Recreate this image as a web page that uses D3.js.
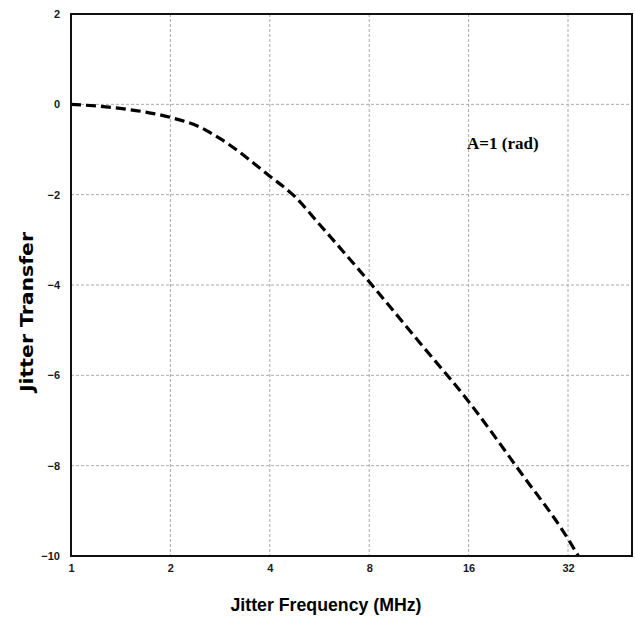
<!DOCTYPE html>
<html>
<head>
<meta charset="utf-8">
<script src="https://cdn.jsdelivr.net/npm/d3@7"></script>
<style>
	body { margin: 0; background: #fff; }
	svg { display: block; font-family: 'Liberation Sans', Arial, sans-serif; }
</style>
</head>
<body>
<svg id="chart" width="635" height="617"></svg>
<script>
// jitter transfer curve
const freqs = [1, 1.41, 2, 2.45, 2.83, 4, 4.76, 5.66, 8, 11.3, 16, 22.9, 32, 34.4]
const transfer = [0, -0.09, -0.29, -0.5, -0.76, -1.59, -2.04, -2.66, -3.93, -5.25, -6.58, -8.13, -9.62, -10]
const xTicks = [1, 2, 4, 8, 16, 32]
const yTicks = [2, 0, -2, -4, -6, -8, -10]

const svg = d3.select('#chart')
const margin = { top: 14, left: 71, bottom: 61, right: 3 }
const width = +svg.attr('width')
const height = +svg.attr('height')

const x = d3.scaleLog().base(2).domain([1, 50]).range([margin.left, width - margin.right])
const y = d3.scaleLinear().domain([-10, 2]).range([height - margin.bottom, margin.top])

// grid
const gGrid = svg.append('g')
gGrid.selectAll('line.v')
	.data(xTicks.slice(1))
	.enter().append('line')
	.attr('x1', x).attr('x2', x)
	.attr('y1', y(2)).attr('y2', y(-10))
gGrid.selectAll('line.h')
	.data(yTicks.slice(1, -1))
	.enter().append('line')
	.attr('x1', x(1)).attr('x2', x(50))
	.attr('y1', y).attr('y2', y)
gGrid.selectAll('line')
	.style('stroke', '#aaa')
	.style('stroke-width', 1)
	.style('stroke-dasharray', '3,2')

// axes, labels only
svg.append('g')
	.attr('transform', `translate(0, ${y(-10)})`)
	.call(d3.axisBottom(x).tickValues(xTicks).tickFormat(d3.format('d')).tickSize(0).tickPadding(8))
svg.append('g')
	.attr('transform', `translate(${x(1)}, 0)`)
	.call(d3.axisLeft(y).tickValues(yTicks).tickSize(0).tickPadding(11))
svg.selectAll('.domain').remove()
svg.selectAll('.tick text')
	.style('font-size', '11px')
	.style('font-weight', 'bold')
	.style('fill', '#1a1a1a')

// curve
const line = d3.line()
	.x((d) => x(d[0]))
	.y((d) => y(d[1]))
	.curve(d3.curveMonotoneX)

svg.append('path')
	.datum(d3.zip(freqs, transfer))
	.attr('d', line)
	.style('fill', 'none')
	.style('stroke', '#000')
	.style('stroke-width', 3.2)
	.style('stroke-dasharray', '10,5')

// frame
svg.append('rect')
	.attr('x', x(1)).attr('y', y(2))
	.attr('width', x(50) - x(1))
	.attr('height', y(-10) - y(2))
	.style('fill', 'none')
	.style('stroke', '#111')
	.style('stroke-width', 2)

svg.append('text')
	.attr('x', 467)
	.attr('y', 149)
	.style('font-family', "'Liberation Serif', 'Times New Roman', serif")
	.style('font-weight', 'bold')
	.style('font-size', '17px')
	.text('A=1 (rad)')

svg.append('text')
	.attr('x', 326)
	.attr('y', 611)
	.attr('text-anchor', 'middle')
	.attr('textLength', 191)
	.attr('lengthAdjust', 'spacingAndGlyphs')
	.style('font-weight', 'bold')
	.style('font-size', '19px')
	.text('Jitter Frequency (MHz)')

svg.append('text')
	.attr('transform', 'translate(33, 312) rotate(-90)')
	.attr('text-anchor', 'middle')
	.attr('textLength', 160)
	.attr('lengthAdjust', 'spacingAndGlyphs')
	.style('font-family', "'DejaVu Sans', Verdana, sans-serif")
	.style('font-weight', 'bold')
	.style('font-size', '17px')
	.text('Jitter Transfer')
</script>
</body>
</html>
